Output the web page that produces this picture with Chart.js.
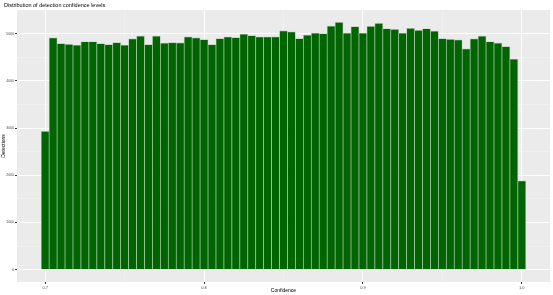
<!DOCTYPE html>
<html lang="en">
<head>
<meta charset="UTF-8">
<title>Distribution of detection confidence levels</title>
<script src="https://cdn.jsdelivr.net/npm/chart.js"></script>
<style>
  body { margin: 0; background: #fff; }
</style>
</head>
<body>
<canvas id="hist" width="553" height="295"></canvas>
<script>
// bin centres (binwidth 0.005)
const binCenters = [
  0.700, 0.705, 0.710, 0.715, 0.720, 0.725, 0.730, 0.735, 0.740, 0.745,
  0.750, 0.755, 0.760, 0.765, 0.770, 0.775, 0.780, 0.785, 0.790, 0.795,
  0.800, 0.805, 0.810, 0.815, 0.820, 0.825, 0.830, 0.835, 0.840, 0.845,
  0.850, 0.855, 0.860, 0.865, 0.870, 0.875, 0.880, 0.885, 0.890, 0.895,
  0.900, 0.905, 0.910, 0.915, 0.920, 0.925, 0.930, 0.935, 0.940, 0.945,
  0.950, 0.955, 0.960, 0.965, 0.970, 0.975, 0.980, 0.985, 0.990, 0.995,
  1.000
];
const detections = [
  2930, 4910, 4790, 4775, 4755, 4830, 4830, 4790, 4770, 4810,
  4755, 4890, 4950, 4770, 4950, 4800, 4810, 4805, 4935, 4910,
  4875, 4770, 4895, 4930, 4915, 4990, 4960, 4930, 4930, 4935,
  5060, 5040, 4895, 4970, 5010, 5000, 5160, 5240, 5010, 5150,
  5010, 5155, 5220, 5105, 5090, 5010, 5115, 5070, 5105, 5055,
  4895, 4880, 4870, 4680, 4890, 4950, 4830, 4800, 4725, 4460,
  1880
];
const xMajor = [0.7, 0.8, 0.9, 1.0];
const xMinor = [0.75, 0.85, 0.95];
const yMajor = [0, 1000, 2000, 3000, 4000, 5000];
const yMinor = [500, 1500, 2500, 3500, 4500];

const FONT = "'Liberation Sans', Arial, sans-serif";

const panelBg = {
  id: 'panelBg',
  beforeDraw(chart) {
    const { ctx, chartArea: a } = chart;
    ctx.save();
    ctx.fillStyle = '#EBEBEB';
    ctx.fillRect(a.left, a.top, a.right - a.left, a.bottom - a.top);
    ctx.restore();
  },
  afterDraw(chart) {
    const ctx = chart.ctx;
    ctx.save();
    ctx.fillStyle = '#000';
    ctx.font = '5.5px ' + FONT;
    ctx.textBaseline = 'middle';
    ctx.fillText('Distribution of detection confidence levels', 4, 5);
    ctx.restore();
  }
};

const isMajor = (list, v) => list.some(m => Math.abs(m - v) < 1e-9);
// major/minor test from a scriptable grid context
const major = (list, c) => c.tick ? isMajor(list, c.tick.value) : false;

new Chart(document.getElementById('hist'), {
  type: 'bar',
  data: {
    datasets: [{
      label: 'Detections',
      data: binCenters.map((x, i) => ({ x: x, y: detections[i] })),
      backgroundColor: '#006400',
      borderColor: 'rgba(170,200,170,0.9)',
      borderWidth: 0.7,
      barPercentage: 1,
      categoryPercentage: 1
    }]
  },
  options: {
    responsive: false,
    animation: false,
    layout: { padding: { left: 0, top: 10, right: 3, bottom: 0 } },
    plugins: {
      legend: { display: false },
      tooltip: { enabled: false }
    },
    scales: {
      x: {
        type: 'linear',
        offset: false,
        min: 0.68225,
        max: 1.01775,
        afterBuildTicks: (s) => { s.ticks = xMajor.concat(xMinor).sort((a, b) => a - b).map(v => ({ value: v })); },
        afterFit: (s) => { s.height = 13; },
        border: { display: false },
        grid: {
          offset: false,
          color: (c) => major(xMajor, c) ? '#FFFFFF' : '#F5F5F5',
          lineWidth: (c) => major(xMajor, c) ? 1 : 0.5,
          tickColor: (c) => major(xMajor, c) ? '#333333' : 'rgba(0,0,0,0)',
          tickLength: 2
        },
        ticks: {
          autoSkip: false,
          maxRotation: 0,
          padding: 1,
          color: '#4D4D4D',
          font: { family: FONT, size: 4 },
          callback: (v) => isMajor(xMajor, v) ? v.toFixed(1) : ''
        },
        title: {
          display: true,
          text: 'Confidence',
          color: '#000',
          font: { family: FONT, size: 5 },
          padding: { top: 0, bottom: 1 }
        }
      },
      y: {
        type: 'linear',
        min: -262,
        max: 5502,
        afterBuildTicks: (s) => { s.ticks = yMajor.concat(yMinor).sort((a, b) => a - b).map(v => ({ value: v })); },
        afterFit: (s) => { s.width = 17; },
        border: { display: false },
        grid: {
          color: (c) => major(yMajor, c) ? '#FFFFFF' : '#F5F5F5',
          lineWidth: (c) => major(yMajor, c) ? 1 : 0.5,
          tickColor: (c) => major(yMajor, c) ? '#333333' : 'rgba(0,0,0,0)',
          tickLength: 2
        },
        ticks: {
          autoSkip: false,
          padding: 1,
          color: '#4D4D4D',
          font: { family: FONT, size: 3.5 },
          callback: (v) => isMajor(yMajor, v) ? String(v) : ''
        },
        title: {
          display: true,
          text: 'Detections',
          color: '#000',
          font: { family: FONT, size: 5 },
          padding: { top: 1, bottom: 0 }
        }
      }
    }
  },
  plugins: [panelBg]
});
</script>
</body>
</html>
